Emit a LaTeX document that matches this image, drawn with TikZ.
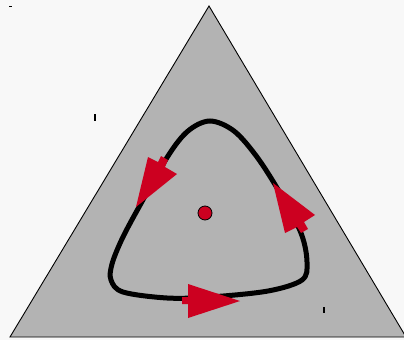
\documentclass[tikz,border=0pt]{standalone}
\begin{document}
\begin{tikzpicture}[x=1pt,y=-1pt,
  tri/.style={fill=triGrey,draw=black,line width=0.9pt,line join=miter},
  loop/.style={draw=black,line width=5pt},
  redarrow/.style={fill=arrowRed,draw=none},
  tick/.style={draw=black,line width=1.3pt}]
\definecolor{triGrey}{RGB}{179,179,179}
\definecolor{arrowRed}{RGB}{204,0,32}
\definecolor{bgWhite}{RGB}{248,248,248}
\useasboundingbox (0,0) rectangle (404,340);
\fill[bgWhite] (0,0) rectangle (404,340);
% triangle
\path[tri] (209,6) -- (10,337) -- (406,337) -- cycle;
% loop
\draw[loop] plot[smooth cycle, tension=0.55] coordinates {
 (210,121) (234,131) (257,157) (280,193) (301,233) (307,262) (302,280)
 (268,291) (210,297) (167,298) (123,292) (111,280) (112,264) (122,239)
 (139,207) (168,156) (188,131)};
% arrows
\fill[redarrow] (136,207) -- (148,157) -- (158,162) -- (161,156) -- (168,160) -- (165,167) -- (177,174) -- cycle;
\fill[redarrow] (273,183) -- (315,215) -- (304,222) -- (308,229) -- (301,233) -- (297,227) -- (285,233) -- cycle;
\fill[redarrow] (240,301) -- (188,318) -- (188,304) -- (182,304) -- (182,297) -- (188,297) -- (188,284) -- cycle;
% centre dot
\filldraw[fill=arrowRed,draw=black,line width=0.8pt] (205,213) circle (7);
% small marks
\draw[tick] (95,114) -- (95,121);
\draw[tick] (324,307) -- (324,313);
\draw[black,line width=1pt] (9,6) -- (12,6);
\end{tikzpicture}
\end{document}
